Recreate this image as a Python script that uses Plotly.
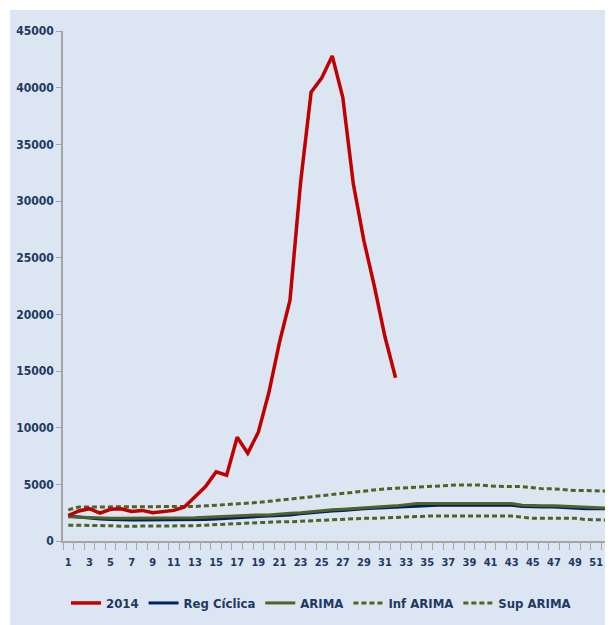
import plotly.graph_objects as go

weeks = list(range(1, 53))

serie_2014 = [2250, 2650, 2850, 2450, 2800, 2850, 2600, 2700, 2500, 2600, 2700, 3000,
              3900, 4800, 6100, 5800, 9150, 7750, 9600, 13100, 17500, 21250, 31600, 39600,
              40850, 42800, 39150, 31500, 26500, 22450, 18000, 14400]

reg_ciclica = [2200, 2100, 2000, 1950, 1900, 1850, 1850, 1850, 1850, 1850, 1850, 1850,
               1850, 1900, 1950, 2000, 2050, 2100, 2150, 2150, 2250, 2300, 2400, 2500,
               2600, 2650, 2700, 2800, 2850, 2900, 2950, 3000, 3050, 3100, 3150, 3150,
               3150, 3150, 3150, 3150, 3150, 3150, 3150, 3050, 3000, 3000, 3000, 2950,
               2850, 2850, 2850, 2850]

arima = [2150, 2100, 2050, 2000, 2000, 2000, 2000, 2000, 2000, 2000, 2000, 2000,
         2050, 2100, 2150, 2200, 2200, 2250, 2300, 2300, 2400, 2450, 2500, 2600,
         2700, 2750, 2800, 2850, 2950, 3000, 3050, 3100, 3200, 3300, 3300, 3300,
         3300, 3300, 3300, 3300, 3300, 3300, 3300, 3150, 3100, 3100, 3100, 3050,
         3000, 2950, 2950, 2900]

inf_arima = [1400, 1400, 1400, 1400, 1350, 1300, 1300, 1300, 1300, 1300, 1300, 1300,
             1350, 1400, 1450, 1450, 1500, 1550, 1600, 1650, 1700, 1700, 1750, 1800,
             1850, 1900, 1900, 1950, 2000, 2000, 2050, 2050, 2100, 2150, 2200, 2200,
             2200, 2200, 2200, 2200, 2200, 2200, 2200, 2100, 2000, 2000, 2000, 2000,
             2000, 1900, 1850, 1850]

sup_arima = [2750, 3000, 3000, 3000, 3000, 3000, 3000, 3000, 3000, 3000, 3000, 3000,
             3050, 3100, 3150, 3200, 3300, 3300, 3400, 3500, 3600, 3700, 3800, 3900,
             4000, 4150, 4250, 4300, 4450, 4550, 4600, 4650, 4700, 4800, 4850, 4900,
             4950, 4950, 4950, 4950, 4850, 4800, 4800, 4800, 4700, 4600, 4600, 4500,
             4450, 4450, 4400, 4400]

x_ticks = list(range(1, 52, 2))
y_ticks = list(range(0, 45001, 5000))

NAVY = "#1F3864"
GREEN = "#4F6228"
FONT = "DejaVu Sans Condensed, Liberation Sans Narrow, Liberation Sans, sans-serif"

fig = go.Figure()
fig.add_trace(go.Scatter(x=weeks, y=inf_arima, name="Inf ARIMA", mode="lines",
                         line=dict(color=GREEN, width=3, dash="5px,3px"), legendrank=4))
fig.add_trace(go.Scatter(x=weeks, y=sup_arima, name="Sup ARIMA", mode="lines",
                         line=dict(color=GREEN, width=3, dash="5px,3px"), legendrank=5))
fig.add_trace(go.Scatter(x=weeks, y=reg_ciclica, name="Reg Cíclica", mode="lines",
                         line=dict(color="#002060", width=3), legendrank=2))
fig.add_trace(go.Scatter(x=weeks, y=arima, name="ARIMA", mode="lines",
                         line=dict(color=GREEN, width=3), legendrank=3))
fig.add_trace(go.Scatter(x=weeks[:len(serie_2014)], y=serie_2014, name="2014", mode="lines",
                         line=dict(color="#C00000", width=3.5), legendrank=1))

# page body has an 8px margin, so the figure sits at (8, 8) in the window
OFF = 8
W, H = 613 - OFF, 625 - OFF
L, R, T, B = 63 - OFF, 1, 31 - OFF, 84
pw, ph = W - L - R, H - T - B


def px_x(p):
    return (p - OFF - L) / pw


def px_y(p):
    return (H - B - (p - OFF)) / ph


fig.add_shape(type="rect", xref="paper", yref="paper", layer="below",
              x0=px_x(10), x1=px_x(616), y0=px_y(626), y1=px_y(10),
              fillcolor="#DCE6F2", line=dict(width=0))

fig.update_layout(
    width=W, height=H,
    margin=dict(l=L, r=R, t=T, b=B),
    paper_bgcolor="white",
    plot_bgcolor="#F2F2F2",
    font=dict(family=FONT, color=NAVY, size=12, weight="bold"),
    showlegend=True,
    legend=dict(orientation="h", x=px_x(66), xanchor="left", y=px_y(603), yanchor="middle",
                bgcolor="rgba(0,0,0,0)",
                font=dict(size=13, color=NAVY, family=FONT, weight="bold"),
                itemwidth=30, tracegroupgap=0),
)

fig.update_xaxes(
    range=[0.5, 52.5], tickmode="array", tickvals=x_ticks,
    ticks="", showgrid=False, zeroline=False, ticklabelstandoff=10,
    showline=True, linecolor="#A6A6A6", linewidth=1.5,
    tickfont=dict(size=11, color=NAVY, family=FONT, weight="bold"),
    minor=dict(tickmode="array", tickvals=[v + 0.5 for v in range(0, 53)], ticks="outside",
               ticklen=7, tickcolor="#A6A6A6", tickwidth=1, showgrid=False),
)

fig.update_yaxes(
    range=[0, 45000], tickmode="array", tickvals=y_ticks, tickformat="d",
    ticks="outside", ticklen=5,
    tickcolor="#A6A6A6", showgrid=False, zeroline=False,
    showline=True, linecolor="#A6A6A6", linewidth=1.5,
    tickfont=dict(size=12, color=NAVY, family=FONT, weight="bold"),
)

fig.write_html("out.html")
